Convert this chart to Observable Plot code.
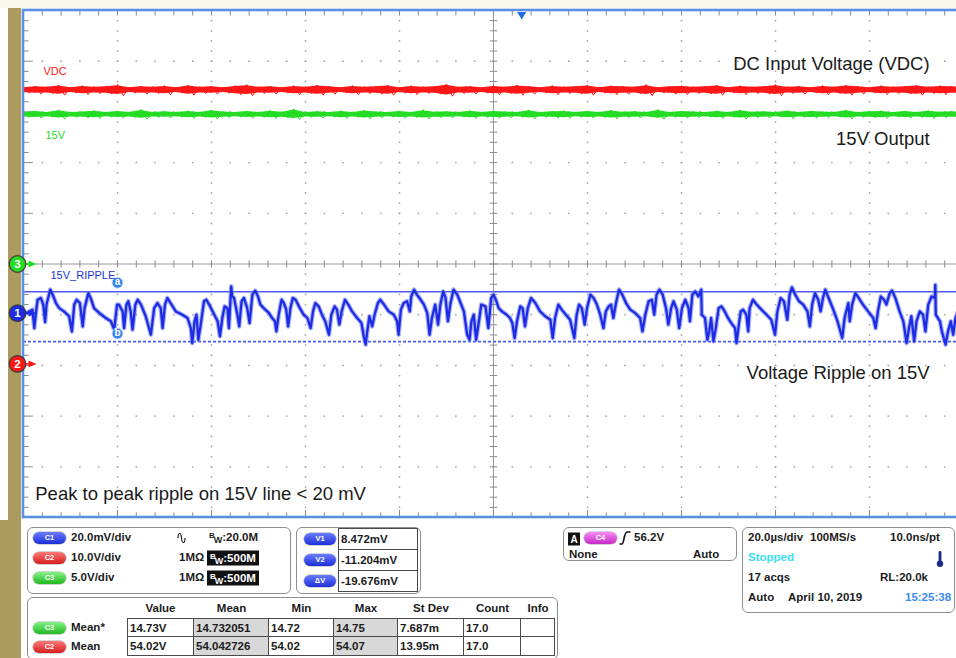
<!DOCTYPE html>
<html><head><meta charset="utf-8">
<script src="https://cdn.jsdelivr.net/npm/d3@7"></script>
<script src="https://cdn.jsdelivr.net/npm/@observablehq/plot@0.6"></script>
<style>
html,body{margin:0;padding:0;background:#fff;overflow:hidden;}
body{width:956px;height:658px;position:relative;font-family:"Liberation Sans",Arial,sans-serif;}
#topstrip{position:absolute;left:0;top:0;width:956px;height:8px;background:#f7f5ec;}
#tan{position:absolute;left:8px;top:8px;width:13px;height:512px;background:#ad9a5e;}
#tan2{position:absolute;left:0;top:520px;width:21px;height:138px;background:#ad9a5e;}
#chart{position:absolute;left:0;top:0;width:956px;height:520px;overflow:hidden;}
#panel{position:absolute;left:0;top:520px;width:956px;height:138px;}
.box{position:absolute;border:1.5px solid #8e8e8e;border-radius:6px;background:#fff;box-sizing:border-box;}
.t{position:absolute;font-weight:bold;font-size:11.5px;color:#1c1c1c;white-space:nowrap;line-height:1;transform:translateY(-50%);}
.pill{position:absolute;height:12px;border-radius:6px;color:#fff;font-size:7.5px;font-weight:bold;text-align:center;line-height:12px;transform:translateY(-50%);box-shadow:0 0 0 0.5px rgba(0,0,0,0.35);}
.cell{position:absolute;border:1px solid #4a4a4a;box-sizing:border-box;font-weight:bold;font-size:11.5px;color:#1c1c1c;padding-left:2px;display:flex;align-items:center;white-space:nowrap;}
.bwbox{position:absolute;background:#111;color:#fff;font-weight:bold;font-size:11.5px;height:15px;line-height:15px;padding:0 3px;transform:translateY(-50%);white-space:nowrap;}
</style>
</head><body>
<div id="topstrip"></div><div id="tan"></div><div id="tan2"></div>
<div id="chart"></div>
<div id="panel"></div>
<script>
// ---------------- data ----------------
// channel settings: volts (or mV) per division and ground position (divisions)
const channels = [
  {id:"1", name:"15V_RIPPLE", perDiv:20, pos:-0.97, color:"#1c2be4"},   // mV/div
  {id:"2", name:"VDC",        perDiv:10, pos:-1.97, color:"#ff1717"},   // V/div
  {id:"3", name:"15V",        perDiv:5,  pos:0,     color:"#25dc25"}    // V/div
];
const timePerDiv = 20;          // µs/div, screen spans -100..100 µs
const triggerTime = 6;          // µs
const cursorA = 8.472;          // mV
const cursorB = -11.204;        // mV

// VDC trace noise envelope (V), evenly sampled across the screen
const vdcHigh = [54.6,54.8,54.7,55.0,54.6,54.9,54.7,54.8,55.1,54.6,54.8,54.7,54.9,54.6,55.0,54.7,54.8,54.6,54.9,55.1,54.7,54.8,54.6,54.9,54.7,55.0,54.8,54.6,54.9,54.7,54.8,55.0,54.6,54.9,54.7,54.8,55.2,54.7,54.8,54.6,54.9,54.7,55.0,54.8,54.6,54.9,54.7,54.8,55.0,54.6,54.9,54.8,54.7,55.1,54.6,54.8,54.9,54.7,54.8,55.0,54.6,54.9,54.7,54.8,55.1,54.7,54.8,54.6,54.9,54.7,55.0,54.8,54.6,54.9,54.7,54.8,55.0,54.7,54.9,54.8,54.7];
const vdcLow  = [53.4,53.2,53.3,53.0,53.4,53.1,53.3,53.2,52.9,53.4,53.2,53.3,53.1,53.4,53.0,53.3,53.2,53.4,53.1,52.9,53.3,53.2,53.4,53.1,53.3,53.0,53.2,53.4,53.1,53.3,53.2,53.0,53.4,53.1,53.3,53.2,52.8,53.3,53.2,53.4,53.1,53.3,53.0,53.2,53.4,53.1,53.3,53.2,53.0,53.4,53.1,53.2,53.3,52.9,53.4,53.2,53.1,53.3,53.2,53.0,53.4,53.1,53.3,53.2,52.9,53.3,53.2,53.4,53.1,53.3,53.0,53.2,53.4,53.1,53.3,53.2,53.0,53.3,53.1,53.2,53.3];
// 15V trace noise envelope (V)
const v15High = [15.0,15.1,14.98,15.2,15.0,15.05,15.15,14.98,15.1,15.0,15.25,15.0,15.08,14.98,15.12,15.0,15.2,15.05,14.98,15.1,15.0,15.15,15.02,15.3,15.0,15.08,14.98,15.12,15.0,15.18,15.05,14.98,15.1,15.0,15.22,15.02,15.08,14.98,15.15,15.0,15.1,15.05,14.98,15.2,15.0,15.08,15.12,14.98,15.1,15.0,15.18,15.02,15.08,14.98,15.25,15.0,15.1,15.05,14.98,15.12,15.0,15.2,15.02,15.08,14.98,15.15,15.0,15.1,15.05,14.98,15.2,15.0,15.08,15.12,14.98,15.1,15.0,15.15,15.02,15.08,15.0];
const v15Low  = [14.45,14.38,14.48,14.3,14.45,14.4,14.35,14.48,14.38,14.45,14.28,14.45,14.4,14.48,14.35,14.45,14.3,14.42,14.48,14.38,14.45,14.35,14.42,14.25,14.45,14.4,14.48,14.36,14.45,14.32,14.42,14.48,14.38,14.45,14.3,14.42,14.4,14.48,14.35,14.45,14.38,14.42,14.48,14.3,14.45,14.4,14.36,14.48,14.38,14.45,14.32,14.42,14.4,14.48,14.28,14.45,14.38,14.42,14.48,14.36,14.45,14.3,14.42,14.4,14.48,14.35,14.45,14.38,14.42,14.48,14.3,14.45,14.4,14.36,14.48,14.38,14.45,14.35,14.42,14.4,14.45];

// 15V ripple waveform: [time µs, mV]
const ripple = [
[-100,0.5],[-99.2,0.1],[-98.1,1.4],[-97.7,-5.9],[-97.4,-0.6],[-97.0,5.3],[-96.3,6.0],[-95.8,3.4],[-95.4,-3.5],[-95.1,3.4],
[-94.5,7.9],[-94.3,9.3],[-93.8,7.3],[-93.1,4.0],[-92.4,2.0],[-91.4,0.7],[-90.3,-1.2],[-89.7,-7.2],[-89.2,3.4],[-88.7,5.3],
[-88.0,4.0],[-87.4,-5.2],[-87.0,2.0],[-86.2,7.9],[-85.7,6.0],[-85.0,2.0],[-83.9,0.1],[-82.5,-1.9],[-81.4,-3.2],[-80.7,-6.5],
[-80.1,3.4],[-79.7,3.4],[-78.9,0.7],[-78.6,-5.9],[-78.1,3.4],[-77.7,4.7],[-77.2,0.7],[-76.8,-6.5],[-76.2,3.4],[-75.7,5.3],
[-75.0,3.4],[-74.0,-1.2],[-72.9,-8.5],[-72.2,2.0],[-71.5,4.0],[-70.8,2.0],[-70.4,-5.9],[-69.9,3.4],[-69.4,6.0],[-68.7,4.0],
[-67.6,0.7],[-66.2,-0.6],[-65.1,-1.9],[-64.4,-5.9],[-64.1,-11.8],[-63.6,-3.2],[-63.2,-0.6],[-62.8,-10.5],[-62.3,-4.5],[-61.6,4.7],
[-61.1,5.3],[-60.5,3.4],[-59.4,-0.6],[-58.7,-3.2],[-58.2,-9.1],[-57.7,-1.9],[-57.2,2.7],[-56.6,2.0],[-56.3,-5.9],[-55.9,7.3],
[-55.8,10.6],[-55.6,6.6],[-55.2,6.0],[-54.5,-0.6],[-54.1,-5.2],[-53.6,4.7],[-53.1,6.0],[-52.4,2.0],[-51.9,-3.9],[-51.3,7.3],
[-50.7,8.9],[-50.1,6.6],[-49.6,3.4],[-48.9,2.0],[-47.8,0.1],[-47.1,-1.9],[-46.5,-3.2],[-46.2,-7.2],[-45.7,-0.6],[-45.1,5.3],
[-44.6,4.0],[-44.1,1.4],[-43.7,-5.2],[-43.2,2.0],[-42.7,6.0],[-42.1,5.3],[-41.4,2.7],[-40.4,-0.6],[-39.6,-1.9],[-38.9,-5.9],
[-38.4,0.7],[-37.9,4.0],[-37.2,2.7],[-36.5,-0.6],[-35.8,-3.2],[-35.0,-8.5],[-34.5,-0.6],[-33.8,2.7],[-33.3,1.4],[-32.8,-4.5],
[-32.3,0.7],[-31.6,5.3],[-30.9,3.4],[-30.1,0.7],[-29.0,-1.9],[-28.1,-3.9],[-27.6,-9.1],[-27.2,-12.4],[-26.9,-7.8],[-26.4,-1.2],
[-25.8,-5.2],[-25.3,-0.6],[-24.6,4.0],[-24.1,5.3],[-23.3,3.4],[-22.3,0.7],[-21.2,-0.6],[-20.5,-3.2],[-20.2,-8.5],[-19.7,1.4],
[-19.1,4.0],[-18.4,4.7],[-17.8,0.7],[-17.5,6.6],[-16.9,9.3],[-16.3,7.3],[-15.5,5.3],[-14.8,3.4],[-14.1,0.1],[-13.6,-8.5],
[-13.1,-1.9],[-12.4,3.4],[-11.8,-4.5],[-11.3,3.4],[-10.7,8.6],[-10.2,6.0],[-9.7,-3.2],[-9.2,3.4],[-8.5,9.3],[-7.7,7.3],
[-7.0,4.0],[-6.3,0.7],[-5.6,-8.5],[-5.1,-10.5],[-4.7,-3.2],[-4.2,-0.6],[-3.7,-10.5],[-3.1,-3.2],[-2.6,3.4],[-1.7,2.7],
[-1.1,-5.9],[-0.5,6.0],[0.0,7.3],[0.5,5.3],[1.1,2.0],[1.8,0.7],[2.8,-0.6],[3.5,-1.9],[4.0,-3.9],[4.5,-9.8],
[5.0,-3.2],[5.7,2.7],[6.2,2.0],[6.7,-5.2],[7.3,2.0],[8.0,6.0],[8.9,4.0],[9.9,0.7],[11.0,-1.2],[12.1,-2.6],
[12.6,-9.8],[13.1,-1.9],[13.8,3.4],[14.5,1.4],[15.4,-0.6],[16.3,-2.6],[17.2,-9.8],[17.7,-0.6],[18.2,3.4],[18.8,2.0],
[19.4,-4.5],[19.9,2.0],[20.6,7.3],[21.3,6.0],[22.0,3.4],[22.7,-0.6],[23.4,-5.9],[23.9,0.7],[24.5,2.7],[25.0,3.4],
[25.5,-1.9],[26.0,3.4],[26.7,9.3],[27.4,7.3],[28.2,4.0],[29.1,1.4],[30.1,0.1],[31.2,-1.9],[31.7,-7.2],[32.3,-0.6],
[33.0,4.7],[33.7,5.3],[34.2,-0.6],[34.7,7.3],[35.3,9.3],[36.0,7.3],[36.7,2.0],[37.2,-4.5],[37.8,2.0],[38.3,4.7],
[39.0,1.4],[39.5,-5.9],[40.1,2.0],[40.8,5.3],[41.5,2.0],[41.8,-3.2],[42.3,7.3],[42.9,8.6],[43.6,6.6],[44.2,9.3],
[44.3,-0.6],[45.0,-1.9],[45.5,-10.5],[45.9,-7.2],[46.3,-1.9],[46.8,-11.1],[47.3,-5.9],[47.9,2.0],[48.5,2.7],[49.2,0.7],
[49.9,-1.9],[50.6,-3.9],[51.4,-5.9],[51.7,-11.8],[52.2,-4.5],[52.6,0.7],[53.1,1.4],[53.8,-0.6],[54.2,-7.2],[54.5,2.0],
[55.2,5.3],[56.0,3.4],[57.0,1.4],[58.1,-0.6],[59.1,-2.6],[59.9,-8.5],[60.4,0.7],[61.1,6.0],[61.8,4.7],[62.5,-2.6],
[63.0,7.3],[63.5,10.2],[64.2,7.3],[65.0,4.7],[65.9,3.4],[66.8,0.7],[67.3,-5.2],[67.8,3.4],[68.4,7.9],[69.1,5.3],
[69.6,0.7],[70.1,6.0],[70.6,9.3],[71.3,6.0],[72.3,1.4],[73.2,-3.2],[74.2,-9.8],[74.7,-1.9],[75.5,4.0],[75.8,-3.2],
[76.3,3.4],[77.0,7.9],[77.7,6.0],[78.6,3.4],[79.7,0.7],[80.8,-1.9],[81.3,-5.9],[81.8,0.7],[82.4,6.6],[83.1,5.3],
[83.6,3.4],[84.3,7.9],[84.8,8.9],[85.5,6.0],[86.4,0.7],[87.2,-3.2],[87.9,-11.8],[88.4,-5.9],[88.9,-1.2],[89.5,-11.1],
[90.0,-3.2],[90.7,0.7],[91.4,-0.6],[91.9,-7.2],[92.5,3.4],[93.2,6.6],[93.9,6.0],[94.0,11.2],[94.1,-0.6],[95.0,-3.2],
[95.4,-7.2],[96.2,-12.4],[96.7,-7.2],[97.3,-3.2],[97.8,-8.5],[98.3,-1.9],[99.3,3.0],[100,2.0]
];

// annotations (x in µs, y in divisions)
const annotations = [
  {text:"DC Input Voltage (VDC)", x:92.8, y:3.95, anchor:"end"},
  {text:"15V Output", x:92.8, y:2.46, anchor:"end"},
  {text:"Voltage Ripple on 15V", x:92.8, y:-2.16, anchor:"end"},
  {text:"Peak to peak ripple on 15V line < 20 mV", x:-97.5, y:-4.53, anchor:"start"}
];

// readout panel contents
const chSettings = [
  {ch:"C1", color:"blue",  scale:"20.0mV/div", coupling:"∿", bw:"20.0M", boxed:false},
  {ch:"C2", color:"red",   scale:"10.0V/div",  coupling:"1MΩ", bw:"500M", boxed:true},
  {ch:"C3", color:"green", scale:"5.0V/div",   coupling:"1MΩ", bw:"500M", boxed:true}
];
const cursorReadouts = [{label:"V1", value:"8.472mV"},{label:"V2", value:"-11.204mV"},{label:"ΔV", value:"-19.676mV"}];
const measHeaders = ["Value","Mean","Min","Max","St Dev","Count","Info"];
const measRows = [
  {src:"C3", color:"green", label:"Mean*", values:["14.73V","14.732051","14.72","14.75","7.687m","17.0",""]},
  {src:"C2", color:"red",   label:"Mean",  values:["54.02V","54.042726","54.02","54.07","13.95m","17.0",""]}
];
const trigger = {mode:"A", src:"C4", level:"56.2V", coupling:"None", sweep:"Auto"};
const acquisition = {timebase:"20.0µs/div", rate:"100MS/s", res:"10.0ns/pt", state:"Stopped", acqs:"17 acqs", rl:"RL:20.0k", mode:"Auto", date:"April 10, 2019", time:"15:25:38"};

// ---------------- build chart ----------------
const [c1, c2, c3] = channels;
const toDiv = (ch, v) => v / ch.perDiv + ch.pos;
const sampleT = (i, n) => -5 * timePerDiv + 10 * timePerDiv * i / (n - 1);

const vdcBand = vdcHigh.map((h, i) => ({t: sampleT(i, vdcHigh.length), hi: toDiv(c2, h), lo: toDiv(c2, vdcLow[i])}));
const v15Band = v15High.map((h, i) => ({t: sampleT(i, v15High.length), hi: toDiv(c3, h), lo: toDiv(c3, v15Low[i])}));
// noise trace zig-zags between the envelope values
const zig = band => band.flatMap((d, i) => {
  const half = i < band.length - 1 ? (band[i + 1].t - d.t) / 2 : 0;
  return half ? [{t: d.t, y: d.hi}, {t: d.t + half, y: d.lo}] : [{t: d.t, y: d.hi}];
});
const vdcZig = zig(vdcBand), v15Zig = zig(v15Band);
const rippleData = ripple.map(([t, v]) => ({t, y: toDiv(c1, v)}));
const vdcMean = d3.mean(vdcBand, d => (d.hi + d.lo) / 2);
const v15Mean = d3.mean(v15Band, d => (d.hi + d.lo) / 2);
const core = (band, m) => band.map(d => ({t: d.t, hi: m + (d.hi - m) * 0.8, lo: m + (d.lo - m) * 0.8}));
const vdcCore = core(vdcBand, vdcMean);
const v15Core = core(v15Band, v15Mean);

const xMin = -5 * timePerDiv, xMax = 5 * timePerDiv;
const minorX = d3.range(0, 51).map(i => xMin + i * timePerDiv / 5);
const minorY = d3.range(0, 51).map(i => +(-5 + i * 0.2).toFixed(2));
const isInt = v => Math.abs(v - Math.round(v)) < 1e-6;
const majX = minorX.filter(x => isInt(x / timePerDiv) && x !== 0 && Math.abs(x) !== xMax);
const majY = minorY.filter(y => isInt(y) && y !== 0 && Math.abs(y) !== 5);
const gridDots = [
  ...majX.flatMap(x => minorY.map(y => ({x, y}))),
  ...majY.flatMap(y => minorX.map(x => ({x, y})))
];
const ticks = [
  ...minorY.map(y => ({x1: xMin, x2: xMin + (isInt(y) ? 2.0 : 1.1), y1: y, y2: y})),
  ...minorX.map(x => ({x1: x, x2: x, y1: 5, y2: 4.9})),
  ...minorX.map(x => ({x1: x, x2: x, y1: -5, y2: isInt(x / timePerDiv) ? -4.85 : -4.9})),
  ...minorX.map(x => ({x1: x, x2: x, y1: -0.07, y2: 0.07})),
  ...minorY.map(y => ({x1: -0.8, x2: 0.8, y1: y, y2: y}))
];
const screen = [{x1: xMin, x2: xMax, y1: -5, y2: 5}];

const rightTri = {draw(ctx, size){const r = Math.sqrt(size / Math.PI); ctx.moveTo(r, 0); ctx.lineTo(-r, -r * 0.85); ctx.lineTo(-r, r * 0.85); ctx.closePath();}};
const downTri = {draw(ctx, size){const r = Math.sqrt(size / Math.PI); ctx.moveTo(-r, -r * 0.75); ctx.lineTo(r, -r * 0.75); ctx.lineTo(0, r * 0.85); ctx.closePath();}};
const FONT = "Liberation Sans, Arial, sans-serif";

const chart = Plot.plot({
  width: 956, height: 520,
  marginLeft: 0, marginRight: 0, marginTop: 0, marginBottom: 0,
  x: {domain: [xMin, xMax], range: [23, 963], axis: null},
  y: {domain: [-5, 5], range: [517, 10], axis: null},
  style: {background: "transparent", overflow: "hidden"},
  marks: [
    Plot.rect(screen, {x1: "x1", x2: "x2", y1: "y1", y2: "y2", fill: "white"}),
    Plot.dot(gridDots, {x: "x", y: "y", r: 0.9, fill: "#a4a4a4", stroke: "none"}),
    Plot.ruleY([0], {x1: xMin, x2: xMax, stroke: "#9a9a9a", strokeWidth: 1}),
    Plot.ruleX([0], {y1: -5, y2: 5, stroke: "#9a9a9a", strokeWidth: 1}),
    Plot.link(ticks, {x1: "x1", x2: "x2", y1: "y1", y2: "y2", stroke: "#8a8a8a", strokeWidth: 1}),
    // VDC and 15V traces: solid core plus zig-zag noise
    Plot.areaY(vdcCore, {x: "t", y1: "lo", y2: "hi", fill: c2.color}),
    Plot.line(vdcZig, {x: "t", y: "y", stroke: c2.color, strokeWidth: 1}),
    Plot.areaY(v15Core, {x: "t", y1: "lo", y2: "hi", fill: c3.color}),
    Plot.line(v15Zig, {x: "t", y: "y", stroke: c3.color, strokeWidth: 1}),
    // cursors
    Plot.ruleY([cursorA], {y: d => toDiv(c1, d), x1: xMin, x2: xMax, stroke: "#4c5cf2", strokeWidth: 1.6}),
    Plot.ruleY([cursorB], {y: d => toDiv(c1, d), x1: xMin, x2: xMax, stroke: "#4c5cf2", strokeWidth: 1.6, strokeDasharray: "3,2"}),
    // ripple
    Plot.line(rippleData, {x: "t", y: "y", stroke: "#7380f6", strokeWidth: 4.6, strokeOpacity: 0.6}),
    Plot.line(rippleData, {x: "t", y: "y", stroke: c1.color, strokeWidth: 2.3}),
    // cursor labels
    Plot.dot([cursorA], {x: () => -80, y: d => toDiv(c1, d), dy: -9, r: 5.5, fill: "#3584ea", stroke: "#d6e6fb", strokeWidth: 1}),
    Plot.text([cursorA], {x: () => -80, y: d => toDiv(c1, d), dy: -9.5, text: () => "a", fill: "white", fontSize: 10, fontWeight: "bold", fontFamily: FONT}),
    Plot.dot([cursorB], {x: () => -80, y: d => toDiv(c1, d), dy: -8, r: 5.5, fill: "#3584ea", stroke: "#d6e6fb", strokeWidth: 1}),
    Plot.text([cursorB], {x: () => -80, y: d => toDiv(c1, d), dy: -8.5, text: () => "b", fill: "white", fontSize: 10, fontWeight: "bold", fontFamily: FONT}),
    // frame
    Plot.rect(screen, {x1: "x1", x2: "x2", y1: "y1", y2: "y2", fill: "none", stroke: "#5a8fe3", strokeWidth: 2.6}),
    // trigger position marker
    Plot.dot([triggerTime], {x: d => d, y: () => 5, dy: 5, r: 4.6, symbol: downTri, fill: "#1e6ee6", stroke: "none"}),
    // channel ground markers
    Plot.ruleY(channels, {y: "pos", x1: xMin, x2: xMin + 1.5, stroke: "color", strokeWidth: 1.6}),
    Plot.dot(channels, {x: () => xMin, y: "pos", dx: 9, r: 4, symbol: rightTri, fill: "color", stroke: "none"}),
    Plot.dot(channels, {x: () => xMin, y: "pos", dx: -6, r: 8.3, fill: "color", stroke: "#3a3a3a", strokeWidth: 1.2}),
    Plot.text(channels, {x: () => xMin, y: "pos", dx: -6, dy: 0.5, text: "id", fill: "white", fontSize: 11.5, fontWeight: "bold", fontFamily: FONT}),
    // channel name labels
    Plot.text([c2], {x: () => xMin, y: () => vdcMean, dx: 20, dy: -19, text: "name", fill: "color", fontSize: 11, textAnchor: "start", fontFamily: FONT}),
    Plot.text([c3], {x: () => xMin, y: () => v15Mean, dx: 22, dy: 21, text: "name", fill: "color", fontSize: 11, textAnchor: "start", fontFamily: FONT}),
    Plot.text([c1], {x: () => xMin, y: () => toDiv(c1, cursorA), dx: 27, dy: -16, text: "name", fill: "#2535d8", fontSize: 11, textAnchor: "start", fontFamily: FONT}),
    // annotations
    Plot.text(annotations.filter(d => d.anchor === "end"), {x: "x", y: "y", text: "text", textAnchor: "end", fontSize: 18.5, fill: "#1a1a1a", fontFamily: FONT}),
    Plot.text(annotations.filter(d => d.anchor === "start"), {x: "x", y: "y", text: "text", textAnchor: "start", fontSize: 18.5, fill: "#1a1a1a", fontFamily: FONT})
  ]
});
document.getElementById("chart").appendChild(chart);

// ---------------- readout panel ----------------
const panel = document.getElementById("panel");
const PY = 520;
const pillColors = {
  blue: "linear-gradient(#6b7cff,#1d2fd8)",
  red: "linear-gradient(#ff7a7a,#d41c1c)",
  green: "linear-gradient(#86f286,#1fb81f)",
  magenta: "linear-gradient(#f78af7,#c62ac6)"
};
function el(cls, style, html) {
  const d = document.createElement("div");
  d.className = cls;
  Object.assign(d.style, style);
  if (html !== undefined) d.innerHTML = html;
  panel.appendChild(d);
  return d;
}
const px = v => v + "px";
function box(x1, y1, x2, y2) { el("box", {left: px(x1), top: px(y1 - PY), width: px(x2 - x1), height: px(y2 - y1)}); }
function text(x, y, s, extra) { return el("t", Object.assign({left: px(x), top: px(y - PY)}, extra || {}), s); }
function pill(x, y, w, color, s) { el("pill", {left: px(x), top: px(y - PY), width: px(w), background: pillColors[color]}, s); }

box(27, 527, 291, 594);
box(296, 527, 421, 594);
box(27, 597, 558, 660);
box(563, 527, 737, 561);
box(742, 527, 955, 613);

const bwHTML = v => `<span style="font-size:8px;position:relative;top:-3px">B</span><span style="font-size:9px;position:relative;top:2px;margin-left:-1px">W</span>:${v}`;
const sine = `<svg width="9" height="14" viewBox="0 0 9 14" style="display:block"><path d="M1 7 C1 1,4 1,4.5 7 S8 13,8 7" fill="none" stroke="#222" stroke-width="1.2"/></svg>`;
chSettings.forEach((c, i) => {
  const y = 538 + i * 20;
  pill(33, y, 33, c.color, c.ch);
  text(71, y, c.scale);
  if (c.boxed) {
    text(179, y, c.coupling);
    el("bwbox", {left: px(207), top: px(y - PY)}, bwHTML(c.bw));
  } else {
    text(177, y, sine);
    text(209, y, bwHTML(c.bw));
  }
});

cursorReadouts.forEach((c, i) => {
  const top = 528 + i * 21;
  pill(304, top + 10.5, 32, "blue", c.label);
  el("cell", {left: px(338), top: px(top - PY), width: px(80), height: px(i === 2 ? 22 : 21.5)}, c.value);
});

const colEdges = [127, 194, 269, 334, 398, 464, 521, 555];
measHeaders.forEach((h, j) => {
  text(colEdges[j], 609, h, {width: px(colEdges[j + 1] - colEdges[j]), textAlign: "center"});
});
measRows.forEach((r, i) => {
  const top = 618 + i * 19;
  pill(33, top + 9.5, 33, r.color, r.src);
  text(71, top + 9.5, r.label);
  r.values.forEach((v, j) => {
    el("cell", {left: px(colEdges[j] - (j ? 1 : 0)), top: px(top - PY - (i ? 1 : 0)), width: px(colEdges[j + 1] - colEdges[j] + (j ? 1 : 0)), height: px(20),
      background: (j === 1 || j === 3) ? "#d8d8d8" : "#fff"}, v);
  });
});

// trigger box
el("t", {left: px(568), top: px(539 - PY), background: "#111", color: "#fff", width: "12px", height: "13px", lineHeight: "13px", textAlign: "center", fontSize: "10px"}, trigger.mode);
pill(584, 538, 33, "magenta", trigger.src);
text(619, 538, `<svg width="12" height="14" viewBox="0 0 12 14" style="display:block"><path d="M0.5 13 L3 13 C5 13,5 1,8 1 L11.5 1" fill="none" stroke="#111" stroke-width="1.7"/></svg>`);
text(634, 538, trigger.level);
text(569, 555, trigger.coupling);
text(693, 555, trigger.sweep);

// acquisition box
text(748, 538, acquisition.timebase);
text(810, 538, acquisition.rate);
text(890, 538, acquisition.res);
text(748, 558, acquisition.state, {color: "#38dff3"});
text(936, 559, `<svg width="8" height="17" viewBox="0 0 8 17" style="display:block"><rect x="2.6" y="0.5" width="2.8" height="12" rx="1.2" fill="#1b2a86"/><circle cx="4" cy="13.2" r="3.2" fill="#1b2a86"/></svg>`);
text(748, 578, acquisition.acqs);
text(880, 578, acquisition.rl);
text(748, 598, acquisition.mode);
text(788, 598, acquisition.date);
text(905, 598, acquisition.time, {color: "#3a8cf0"});
</script>
</body></html>
